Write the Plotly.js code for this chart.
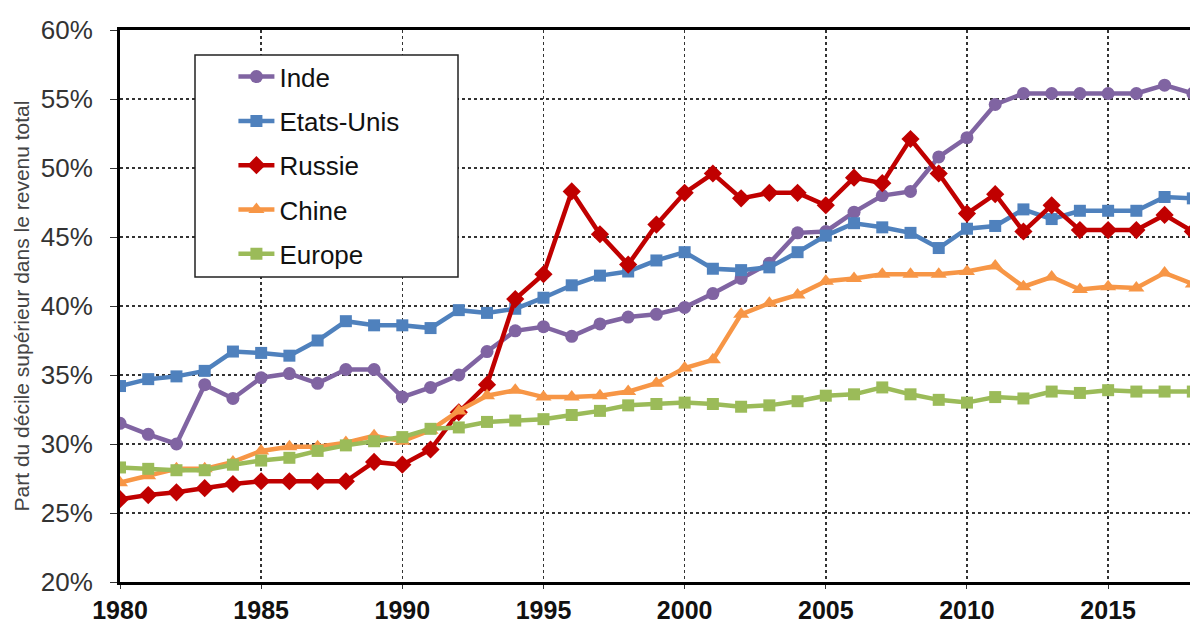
<!DOCTYPE html>
<html>
<head>
<meta charset="utf-8">
<script src="https://cdn.plot.ly/plotly-3.0.1.min.js"></script>
<style>html,body{margin:0;padding:0;background:#fff;}#chart{width:1190px;height:626px;}</style>
</head>
<body>
<div id="chart"></div>
<script>
const years = [1980,1981,1982,1983,1984,1985,1986,1987,1988,1989,1990,1991,1992,1993,1994,1995,1996,1997,1998,1999,2000,2001,2002,2003,2004,2005,2006,2007,2008,2009,2010,2011,2012,2013,2014,2015,2016,2017,2018];

const inde = [31.5,30.7,30.0,34.3,33.3,34.8,35.1,34.4,35.4,35.4,33.4,34.1,35.0,36.7,38.2,38.5,37.8,38.7,39.2,39.4,39.9,40.9,42.0,43.1,45.3,45.4,46.8,48.0,48.3,50.8,52.2,54.6,55.4,55.4,55.4,55.4,55.4,56.0,55.4];
const etatsUnis = [34.2,34.7,34.9,35.3,36.7,36.6,36.4,37.5,38.9,38.6,38.6,38.4,39.7,39.5,39.8,40.6,41.5,42.2,42.5,43.3,43.9,42.7,42.6,42.8,43.9,45.1,46.0,45.7,45.3,44.2,45.6,45.8,47.0,46.3,46.9,46.9,46.9,47.9,47.8];
const russie = [26.0,26.3,26.5,26.8,27.1,27.3,27.3,27.3,27.3,28.7,28.5,29.6,32.3,34.3,40.5,42.3,48.3,45.2,43.0,45.9,48.2,49.6,47.8,48.2,48.2,47.3,49.3,48.9,52.1,49.6,46.7,48.1,45.4,47.3,45.5,45.5,45.5,46.6,45.4];
const chine = [27.2,27.7,28.2,28.2,28.7,29.5,29.8,29.8,30.1,30.6,30.2,31.0,32.4,33.5,33.9,33.4,33.4,33.5,33.8,34.4,35.5,36.1,39.4,40.2,40.8,41.8,42.0,42.3,42.3,42.3,42.5,42.9,41.4,42.1,41.2,41.4,41.3,42.4,41.6];
const europe = [28.3,28.2,28.1,28.1,28.5,28.8,29.0,29.5,29.9,30.2,30.5,31.1,31.2,31.6,31.7,31.8,32.1,32.4,32.8,32.9,33.0,32.9,32.7,32.8,33.1,33.5,33.6,34.1,33.6,33.2,33.0,33.4,33.3,33.8,33.7,33.9,33.8,33.8,33.8];

const seriesNames = ["Inde","Etats-Unis","Russie","Chine","Europe"];
const seriesData = [inde, etatsUnis, russie, chine, europe];
const seriesColors = ["#8064A2","#4F81BD","#C00000","#F79646","#9BBB59"];
const seriesSymbols = ["circle","square","diamond","triangle-up","square"];
const markerSizes = [13,12,14,14,12];

const traces = seriesNames.map((n,i)=>({
  x: years,
  y: seriesData[i].map(v=>v/100),
  name: n,
  type: 'scatter',
  mode: 'lines+markers',
  legendgroup: 'g'+i,
  line: {color: seriesColors[i], width: 4.5},
  marker: {color: seriesColors[i], symbol: seriesSymbols[i], size: markerSizes[i]}
}));

const layout = {
  width: 1190, height: 626,
  margin: {l: 120, r: 0, t: 30, b: 44},
  paper_bgcolor: '#fff', plot_bgcolor: '#fff',
  font: {family: 'Liberation Sans, Arial, sans-serif', color: '#222'},
  showlegend: true,
  legend: {
    x: 0.106, y: 0.958, xanchor: 'left', yanchor: 'top',
    bgcolor: 'rgba(0,0,0,0)', borderwidth: 0,
    font: {size: 26, color: '#111'},
    traceorder: 'grouped', tracegroupgap: 7.5,
    itemwidth: 36
  },
  shapes: [{
    type: 'rect', xref: 'paper', yref: 'paper', layer: 'above',
    x0: (195-120)/1070, x1: (458-120)/1070,
    y0: (582-277)/552, y1: (582-55)/552,
    fillcolor: '#fff', line: {color: '#222', width: 1.5}
  }],
  xaxis: {
    range: [1980, 2017.9],
    tickvals: [1980,1985,1990,1995,2000,2005,2010,2015],
    ticktext: ['1980','1985','1990','1995','2000','2005','2010','2015'],
    tickfont: {size: 25, color: '#111', family: 'Liberation Sans, Arial, sans-serif', weight: 'bold'},
    ticklabelstandoff: 0,
    showgrid: true, gridcolor: '#333', griddash: 'dot', gridwidth: 1.5,
    showline: true, linecolor: '#000', linewidth: 3, mirror: true,
    ticks: 'outside', ticklen: 4, tickcolor: '#333',
    zeroline: false
  },
  yaxis: {
    range: [0.2, 0.6],
    tickvals: [0.2,0.25,0.3,0.35,0.4,0.45,0.5,0.55,0.6],
    ticktext: ['20%','25%','30%','35%','40%','45%','50%','55%','60%'],
    tickfont: {size: 26, color: '#333'},
    ticklabelstandoff: 12,
    showgrid: true, gridcolor: '#333', griddash: 'dot', gridwidth: 1.5,
    showline: true, linecolor: '#000', linewidth: 3,
    ticks: 'outside', ticklen: 7, tickcolor: '#333',
    zeroline: false,
    title: {text: 'Part du décile supérieur dans le revenu total', font: {size: 21, color: '#444'}, standoff: 6}
  }
};

Plotly.newPlot('chart', traces, layout, {displayModeBar: false, staticPlot: true});
</script>
</body>
</html>
